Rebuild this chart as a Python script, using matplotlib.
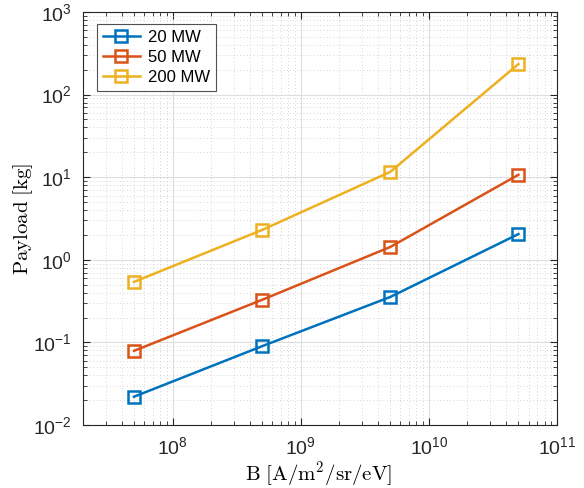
import matplotlib

matplotlib.use("Agg")
import matplotlib.pyplot as plt  # noqa: E402
from matplotlib.ticker import LogLocator, NullFormatter  # noqa: E402

# brightness B [A/m^2/sr/eV] and payload mass [kg] per beam power
brightness = [5e7, 5e8, 5e9, 5e10]
payload_20mw = [0.022, 0.09, 0.355, 2.05]
payload_50mw = [0.079, 0.328, 1.43, 10.7]
payload_200mw = [0.54, 2.3, 11.6, 234]
labels = ["20 MW", "50 MW", "200 MW"]
colors = ["#0072BD", "#D95319", "#EDB120"]

plt.rcParams["font.family"] = ["Liberation Sans", "DejaVu Sans"]
plt.rcParams["mathtext.fontset"] = "cm"

fig = plt.figure(figsize=(5.84, 4.88), dpi=100)
ax = fig.add_axes([83 / 584, 1 - 425 / 488, 474 / 584, 413 / 488])

for ys, lab, c in zip([payload_20mw, payload_50mw, payload_200mw], labels, colors):
    ax.plot(brightness, ys, color=c, lw=1.8, marker="s", ms=8,
            mfc="none", mew=1.8, label=lab)

ax.set_xscale("log")
ax.set_yscale("log")
ax.set_xlim(2e7, 1e11)
ax.set_ylim(1e-2, 1e3)
ax.xaxis.set_major_locator(LogLocator(base=10, numticks=10))
ax.xaxis.set_minor_locator(LogLocator(base=10, subs=range(2, 10), numticks=20))
ax.yaxis.set_minor_locator(LogLocator(base=10, subs=range(2, 10), numticks=20))
ax.xaxis.set_minor_formatter(NullFormatter())
ax.yaxis.set_minor_formatter(NullFormatter())

# MATLAB-style grid: solid majors, dotted minors
ax.grid(True, which="major", color="#dedede", lw=0.8, ls="-")
ax.grid(True, which="minor", color="#c8c8c8", lw=0.6, ls=(0, (1, 3)))
ax.set_axisbelow(True)

for s in ax.spines.values():
    s.set_color("#262626")
    s.set_linewidth(0.8)
ax.tick_params(which="both", direction="in", top=True, right=True,
               colors="#262626", labelsize=14, labelcolor="#262626")
ax.tick_params(which="major", length=5, pad=8)
ax.tick_params(which="minor", length=3)

ax.set_xlabel(r"$\mathrm{B\ [A/m^2/sr/eV]}$", fontsize=15)
ax.set_ylabel(r"$\mathrm{Payload\ [kg]}$", fontsize=15)
ax.xaxis.set_label_coords(0.496, -0.085)
ax.yaxis.set_label_coords(-0.101, 0.5)

leg = ax.legend(loc="upper left", fontsize=12, fancybox=False,
                edgecolor="#262626", handlelength=2.2, handletextpad=0.5,
                borderpad=0.35, labelspacing=0.3, borderaxespad=0,
                bbox_to_anchor=(0.03, 0.97))
leg.get_frame().set_linewidth(0.8)

fig.savefig("out.png", dpi=100)
